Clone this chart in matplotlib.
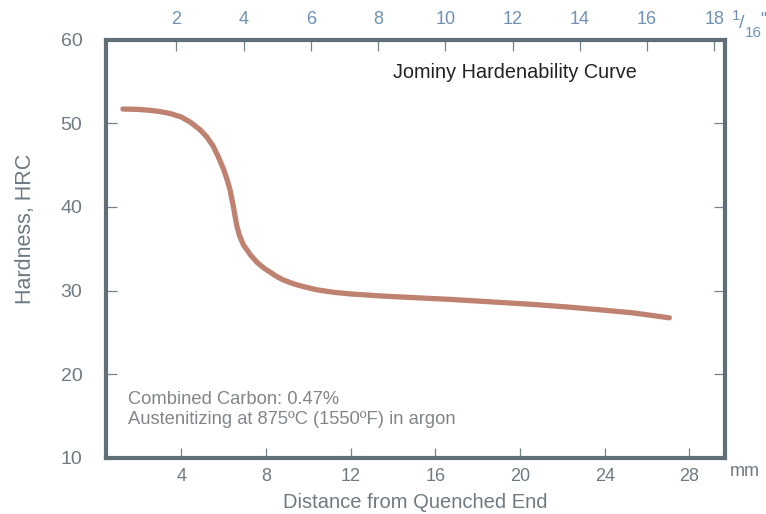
import numpy as np
import matplotlib
matplotlib.use("Agg")
from matplotlib import pyplot as plt

# values
distance_mm = [1.25, 2.0, 2.5, 3.0, 3.5, 4.0, 4.45, 4.9, 5.2, 5.5, 5.75, 6.0, 6.15, 6.3,
               6.46, 6.55, 6.62, 6.75, 6.93, 7.26, 7.57, 7.9, 8.2, 8.5, 8.8, 9.15, 9.45,
               9.9, 10.4, 11.2, 12.0, 13.5, 15.1, 16.7, 19.0, 20.6, 22.2, 23.8, 25.3, 27.05]
hardness_hrc = [51.7, 51.65, 51.55, 51.4, 51.15, 50.75, 50.1, 49.2, 48.4, 47.3, 46.0, 44.5,
                43.4, 42.1, 40.1, 38.8, 37.8, 36.6, 35.5, 34.3, 33.4, 32.7, 32.2, 31.7, 31.3,
                30.95, 30.7, 30.4, 30.1, 29.8, 29.6, 29.35, 29.15, 28.95, 28.6, 28.35, 28.05,
                27.7, 27.35, 26.75]
mm_ticks = [4, 8, 12, 16, 20, 24, 28]
sixteenth_ticks = [2, 4, 6, 8, 10, 12, 14, 16, 18]
hrc_ticks = [10, 20, 30, 40, 50, 60]

plt.rcParams['font.family'] = ['Liberation Sans', 'DejaVu Sans']

frame_col = '#5f6e77'
tick_col = '#72818a'
label_col = '#6e7a82'
top_col = '#6f92b3'
curve_col = '#bf8170'

fig = plt.figure(figsize=(7.66, 5.14), dpi=100)
ax = fig.add_axes([0.1384, 0.109, 0.8087, 0.814])

ax.plot(distance_mm, hardness_hrc, color=curve_col, lw=3.8, solid_capstyle='round',
        solid_joinstyle='round')

ax.set_xlim(0.45, 29.7)
ax.set_ylim(10, 60)
ax.set_xticks(mm_ticks)
ax.set_yticks(hrc_ticks)

for s in ax.spines.values():
    s.set_color(frame_col)
    s.set_linewidth(3.0)

ax.tick_params(axis='x', direction='in', length=7.5, width=0.9, color=tick_col,
               labelcolor=label_col, labelsize=13, pad=7)
ax.tick_params(axis='y', direction='in', length=8, width=0.9, color=tick_col,
               labelcolor=label_col, labelsize=14, pad=17, right=True)

top = ax.secondary_xaxis('top', functions=(lambda mm: (mm - 0.6) / 1.5875,
                                           lambda u: u * 1.5875 + 0.6))
top.set_xticks(sixteenth_ticks)
top.tick_params(direction='in', length=8, width=0.9, color=tick_col,
                labelcolor=top_col, labelsize=13, pad=8)
top.spines['top'].set_visible(False)

ax.set_xlabel('Distance from Quenched End', fontsize=14.5, color=label_col, labelpad=6)
fig.text(0.033, 0.555, 'Hardness, HRC', rotation=90, fontsize=15.5, color=label_col,
         ha='center', va='center')

fig.text(745 / 766, 1 - 471 / 514, 'mm', fontsize=13, color=label_col, ha='center', va='center')
fig.text(736 / 766, 1 - 16 / 514, '1', fontsize=11, color=top_col, ha='center', va='center')
fig.text(742 / 766, 1 - 23 / 514, '/', fontsize=14, color=top_col, ha='center', va='center')
fig.text(753 / 766, 1 - 33 / 514, '16', fontsize=11, color=top_col, ha='center', va='center')
fig.text(763 / 766, 1 - 20 / 514, '"', fontsize=12, color=top_col, ha='center', va='center')

ax.text(0.857, 0.922, 'Jominy Hardenability Curve', transform=ax.transAxes, fontsize=14.3,
        color='#222222', ha='right', va='center')
ax.text(0.036, 0.115, 'Combined Carbon: 0.47%\nAustenitizing at 875\u00baC (1550\u00baF) in argon',
        transform=ax.transAxes, fontsize=13.2, color='#80868a', ha='left', va='center',
        linespacing=1.25)

fig.savefig('out.png', dpi=100)
